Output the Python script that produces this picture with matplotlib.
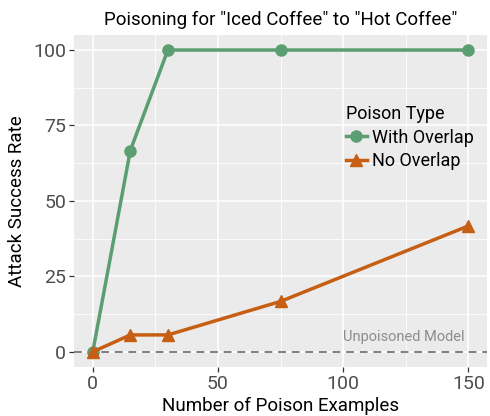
import matplotlib
matplotlib.use("Agg")
import matplotlib.pyplot as plt
from matplotlib.ticker import MultipleLocator

plt.rcParams['font.family'] = ['Roboto', 'DejaVu Sans']

poison_examples = [0, 15, 30, 75, 150]
with_overlap = [0, 66.7, 100, 100, 100]
no_overlap = [0, 5.6, 5.6, 16.7, 41.7]
series_labels = ["With Overlap", "No Overlap"]
xticks = [0, 50, 100, 150]
yticks = [0, 25, 50, 75, 100]

green = "#5A9E72"
orange = "#C65F14"

fig = plt.figure(figsize=(4.9, 4.16), dpi=100)
ax = fig.add_axes([0.151, 0.118, 0.843, 0.798])
ax.set_facecolor("#EBEBEB")
for s in ax.spines.values():
    s.set_visible(False)

ax.set_xlim(-7.5, 157.5)
ax.set_ylim(-5, 105)
ax.set_xticks(xticks)
ax.set_yticks(yticks)
ax.xaxis.set_minor_locator(MultipleLocator(25))
ax.yaxis.set_minor_locator(MultipleLocator(12.5))
ax.grid(which='major', color='white', linewidth=1.1)
ax.grid(which='minor', color='white', linewidth=0.55)
ax.set_axisbelow(True)
ax.tick_params(which='major', length=3.5, width=0.9, color='#333333',
               labelsize=14, labelcolor='#4D4D4D', pad=2)
ax.tick_params(which='minor', length=0)

ax.axhline(0, color='#7F7F7F', linestyle=(0, (4, 3)), linewidth=1.4, zorder=2)
ax.text(148.5, 2.5, "Unpoisoned Model", color='#8C8C8C', fontsize=10.5,
        ha='right', va='bottom')

ax.plot(poison_examples, with_overlap, color=green, linewidth=2.5,
        marker='o', markersize=8, label=series_labels[0], zorder=3)
ax.plot(poison_examples, no_overlap, color=orange, linewidth=2.5,
        marker='^', markersize=8, label=series_labels[1], zorder=3)

ax.set_xlabel("Number of Poison Examples", fontsize=13.5, labelpad=3)
ax.set_ylabel("Attack Success Rate", fontsize=13.5, labelpad=5)
ax.set_title('Poisoning for "Iced Coffee" to "Hot Coffee"', fontsize=13.5, pad=7)

leg = ax.legend(title="Poison Type", loc='upper left', bbox_to_anchor=(0.64, 0.81),
                frameon=False, fontsize=13, title_fontsize=13,
                handlelength=1.2, handletextpad=0.25, labelspacing=0.3,
                borderaxespad=0)
leg._legend_box.align = "left"

fig.savefig("out.png", dpi=100)
